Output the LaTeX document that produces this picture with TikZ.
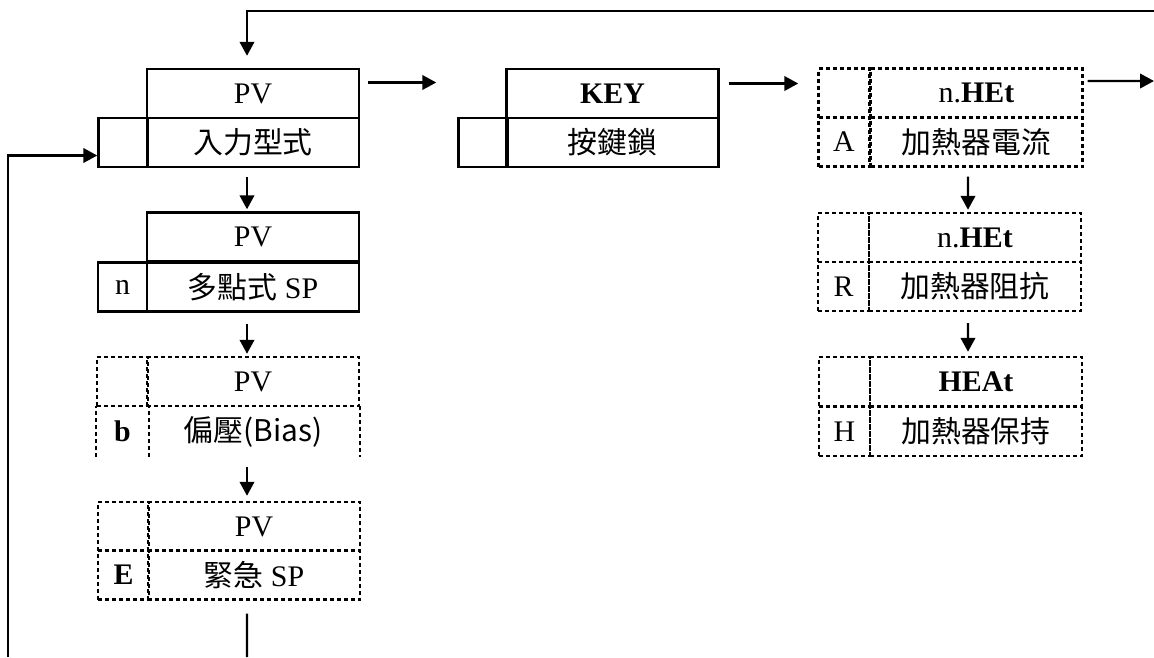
\documentclass[tikz,border=0pt]{standalone}
\usepackage{fontspec}
\setmainfont{Liberation Serif}
\newfontfamily\cjk{Noto Sans CJK TC}
\usetikzlibrary{arrows.meta}

\tikzset{
  cell/.style={draw, line width=1.4pt, minimum width=42.4mm, minimum height=9.8mm,
    inner sep=0pt, font=\fontsize{17}{20}\selectfont},
  tagcell/.style={cell, minimum width=9.8mm},
  dashline/.style={line width=1.4pt, dash pattern=on 0.8mm off 0.6mm},
  dcell/.style={cell, dashline},
  dtag/.style={dcell, minimum width=10.2mm},
  arr/.style={line width=1.4pt, -{Triangle[length=2.8mm,width=2.9mm]}}
}

\begin{document}
\begin{tikzpicture}[x=0.2mm, y=-0.2mm]
  \useasboundingbox (0,0) rectangle (1154,657);

  % levy sloupec
  \node[cell] (pvT) at (253,93.5) {PV};
  \node[cell] (pvB) at (253,142.5) {\cjk 入力型式};
  \node[tagcell] (pvTag) at (123,142.5) {};

  \node[cell] (mpT) at (253,237) {PV};
  \node[cell] (mpB) at (253,287) {{\cjk 多點式} SP};
  \node[tagcell] (mpTag) at (122.5,287) {n};

  \node[dcell] (biasT) at (253,381.5) {PV};
  \node[cell, draw=none] (biasB) at (253,431.5) {\cjk 偏壓(Bias)};
  \node[dtag] (biasTagT) at (122.5,381.5) {};
  \node[dtag, draw=none, font=\fontsize{17}{20}\selectfont\bfseries] (biasTagB) at (122.5,431.5) {b};

  \node[dcell] (emT) at (254,526.5) {PV};
  \node[dcell] (emB) at (254,575) {{\cjk 緊急} SP};
  \node[dtag] (emTagT) at (123.5,526.5) {};
  \node[dtag, font=\fontsize{17}{20}\selectfont\bfseries] (emTagB) at (123.5,575) {E};

  % okraj bez spodni cary
  \draw[dashline] (biasTagB.south west) -- (biasTagB.north west);
  \draw[dashline] (biasTagB.south east) -- (biasTagB.north east);
  \draw[dashline] (biasB.north east) -- (biasB.south east);

  % klavesnice
  \node[cell] (keyT) at (612.5,93.5) {\textbf{KEY}};
  \node[cell] (keyB) at (612.5,142.5) {\cjk 按鍵鎖};
  \node[tagcell] (keyTag) at (483,142.5) {};

  % pravy sloupec
  \node[dcell] (nheT) at (976.5,93) {n.\textbf{HEt}};
  \node[dcell] (nheB) at (976.5,142) {\cjk 加熱器電流};
  \node[dtag] (nheTagT) at (844,93) {};
  \node[dtag] (nheTagB) at (844,142) {A};

  \node[dcell] (rT) at (975,237.5) {n.\textbf{HEt}};
  \node[dcell] (rB) at (975,286.5) {\cjk 加熱器阻抗};
  \node[dtag] (rTagT) at (843.5,237.5) {};
  \node[dtag] (rTagB) at (843.5,286.5) {R};

  \node[dcell] (hT) at (976,381.5) {\textbf{HEAt}};
  \node[dcell] (hB) at (976,431.5) {\cjk 加熱器保持};
  \node[dtag] (hTagT) at (844.5,381.5) {};
  \node[dtag] (hTagB) at (844.5,431.5) {H};

  % volne konce
  \coordinate (loopTop) at (1154,11);
  \coordinate (loopBot) at (8,657);
  \coordinate (exitR) at (1154,81);
  \coordinate (exitB) at (247,657);

  % sipky
  \draw[arr, shorten >=2.4mm] (loopTop) -| ([xshift=-1.2mm]pvT.north);
  \draw[arr] (loopBot) |- ([yshift=-2.6mm]pvTag.west);
  \draw[arr, shorten <=1.6mm, shorten >=4.2mm] ([yshift=2.2mm]pvT.east)
    -- ([yshift=2.2mm]pvT.east -| keyTag.west);
  \draw[arr, shorten <=1.8mm, shorten >=3.8mm] ([yshift=2mm]keyT.east)
    -- ([yshift=2mm]keyT.east -| nheTagT.west);
  \draw[arr, shorten <=0.8mm] ([yshift=2.4mm]nheT.east) -- (exitR);

  \draw[arr, shorten <=1.8mm, shorten >=0.4mm] ([xshift=-1.2mm]pvB.south)
    -- ([xshift=-1.2mm]mpT.north);
  \draw[arr, shorten <=2.2mm, shorten >=0.4mm] ([xshift=-1.2mm]mpB.south)
    -- ([xshift=-1.2mm]biasT.north);
  \draw[arr, shorten <=2mm, shorten >=1mm] ([xshift=-1.2mm]biasB.south)
    -- ([xshift=-1.4mm]emT.north);
  \draw[line width=1.4pt, shorten <=2.6mm] ([xshift=-1.4mm]emB.south) -- (exitB);

  \draw[arr, shorten <=1.8mm, shorten >=0.4mm] ([xshift=-1.7mm]nheB.south)
    -- ([xshift=-1.4mm]rT.north);
  \draw[arr, shorten <=2.2mm, shorten >=0.8mm] ([xshift=-1.4mm]rB.south)
    -- ([xshift=-1.6mm]hT.north);
\end{tikzpicture}
\end{document}
